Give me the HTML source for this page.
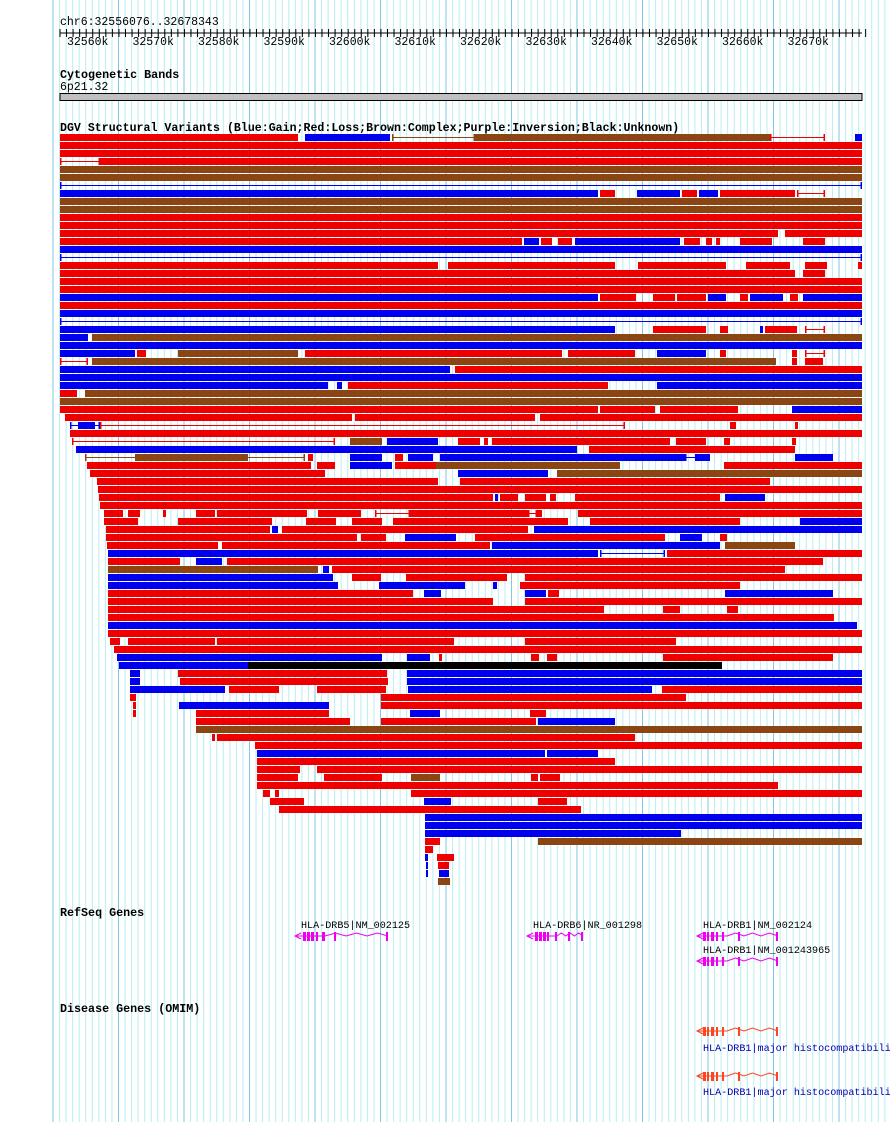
<!DOCTYPE html>
<html><head><meta charset="utf-8"><style>
html,body{margin:0;padding:0;background:#fff;width:890px;height:1122px;overflow:hidden}
svg{display:block}
text{font-family:"Liberation Mono",monospace}
</style></head><body>
<svg id="s" width="890" height="1122" xmlns="http://www.w3.org/2000/svg">
<g id="grid"></g>
<text x="60" y="25" font-size="11.5">chr6:32556076..32678343</text>
<line x1="60" y1="33" x2="862" y2="33" stroke="#000"/>
<g id="ticks"></g>
<text x="60" y="78" font-size="11.7" font-weight="bold">Cytogenetic Bands</text>
<text x="60" y="90" font-size="11.5">6p21.32</text>
<rect x="60" y="93.5" width="802" height="7" fill="#c0c0c0" stroke="#000"/>
<text x="60" y="131" font-size="11.6" font-weight="bold">DGV Structural Variants (Blue:Gain;Red:Loss;Brown:Complex;Purple:Inversion;Black:Unknown)</text>
<g id="bars"></g>
<text x="60" y="916" font-size="11.7" font-weight="bold">RefSeq Genes</text>
<text x="301" y="928" font-size="10.1">HLA-DRB5|NM_002125</text>
<text x="533" y="928" font-size="10.1">HLA-DRB6|NR_001298</text>
<text x="703" y="928" font-size="10.1">HLA-DRB1|NM_002124</text>
<text x="703" y="953" font-size="10.1">HLA-DRB1|NM_001243965</text>
<g id="genes"></g>
<text x="60" y="1012" font-size="11.7" font-weight="bold">Disease Genes (OMIM)</text>
<text x="703" y="1051" font-size="10.1" fill="#0000aa">HLA-DRB1|major histocompatibili</text>
<text x="703" y="1095" font-size="10.1" fill="#0000aa">HLA-DRB1|major histocompatibili</text>
</svg>
<script>
var NS="http://www.w3.org/2000/svg";
function el(p,t,a){var e=document.createElementNS(NS,t);for(var k in a)e.setAttribute(k,a[k]);document.getElementById(p).appendChild(e);return e;}
for(var i=0;i<140;i++){var x=53+i*6.55;if(x>889)break;var maj=(i%10==0);
el("grid","line",{x1:x,y1:0,x2:x,y2:1122,stroke:maj?"#7ec8e8":"#b8eef2","stroke-width":1});}
var labs=["32560k","32570k","32580k","32590k","32600k","32610k","32620k","32630k","32640k","32650k","32660k","32670k"];
for(var i=0;i<labs.length;i++){var t=el("ticks","text",{x:67+i*65.5,y:45,"font-size":11.5});t.textContent=labs[i];}
for(var i=0;i<124;i++){var x=60+i*6.55;el("ticks","line",{x1:x,y1:29,x2:x,y2:37,stroke:"#000"});}
var C={r:"#ee0000",b:"#0000ee",n:"#8b4513",k:"#000",R:"#ee0000",B:"#0000ee",N:"#8b4513"};
var D=[
[134,"r 60 298,b 305 390,N 392 475,n 475 770,R 770 825,b 855 862"],
[142,"r 60 862"],[150,"r 60 862"],[158,"R 60 100,r 100 862"],[166,"n 60 862"],[174,"n 60 862"],[182,"B 60 862"],
[190,"b 60 598,r 600 615,b 637 680,r 682 697,b 699 718,r 720 795,R 797 825"],
[198,"n 60 862"],[206,"n 60 862"],[214,"r 60 862"],[222,"r 60 862"],[230,"r 60 778,r 785 862"],
[238,"r 60 522,b 524 539,r 541 552,r 558 572,b 575 680,r 684 700,r 706 712,r 716 720,r 740 772,r 803 825"],
[246,"b 60 862"],[254,"B 60 862"],
[262,"r 60 438,r 448 615,r 638 726,r 746 790,r 805 827,r 858 862"],
[270,"r 60 795,r 803 825"],[278,"r 60 862"],[286,"r 60 862"],
[294,"b 60 598,r 600 636,r 653 675,r 677 706,b 708 726,r 740 748,b 750 783,r 790 798,b 803 862"],
[302,"r 60 862"],[310,"b 60 862"],[318,"B 60 862"],
[326,"b 60 615,r 653 706,r 720 728,b 760 763,r 765 797,R 805 825"],
[334,"b 60 88,n 92 862"],[342,"b 60 862"],
[350,"b 60 135,r 137 146,n 178 298,r 305 562,r 568 635,b 657 706,r 720 726,r 792 797,R 805 825"],
[358,"R 60 88,n 92 776,r 792 797,r 805 823"],
[366,"b 60 450,r 455 862"],[374,"b 60 862"],[382,"b 60 328,b 337 342,r 348 608,b 657 862"],
[390,"r 60 77,n 85 862"],[398,"n 60 862"],[406,"r 60 598,r 600 655,r 660 738,b 792 862"],
[414,"r 65 352,r 355 535,r 540 862"],
[422,"B 70 100,b 78 95,R 100 625,r 730 736,r 795 798"],
[430,"r 70 862"],
[438,"R 72 335,n 350 382,b 387 438,r 458 480,r 484 488,r 492 670,r 676 706,r 724 730,r 792 796"],
[446,"b 76 577,r 589 795"],
[454,"N 85 305,n 135 248,r 308 313,b 350 382,r 395 403,b 408 433,b 440 685,B 685 710,b 695 710,b 795 833"],
[462,"r 87 311,r 317 335,b 350 392,r 395 438,n 436 620,r 724 862"],
[470,"r 90 325,b 458 548,n 557 862"],[478,"r 97 438,r 460 770"],[486,"r 98 862"],
[494,"r 99 493,b 495 498,r 500 518,r 525 546,r 550 556,r 575 720,b 725 765"],
[502,"r 100 862"],
[510,"r 104 123,r 128 140,r 163 166,r 196 215,r 217 307,r 318 361,R 375 410,r 410 528,R 528 537,r 537 542,r 578 862"],
[518,"r 104 138,r 178 272,r 306 336,r 352 382,r 393 568,r 590 740,b 800 862"],
[526,"r 106 270,b 272 278,r 282 528,b 534 862"],
[534,"r 106 357,r 361 386,b 405 456,r 475 665,b 680 702,r 720 727"],
[542,"r 107 218,r 222 490,b 492 720,n 725 795"],
[550,"b 108 598,B 600 665,r 667 862"],
[558,"r 108 180,b 196 222,r 227 823"],
[566,"n 108 318,b 323 329,r 332 785"],
[574,"b 108 333,r 352 381,r 406 507,r 525 862"],
[582,"b 108 338,b 379 465,b 493 497,r 520 740"],
[590,"r 108 413,b 424 441,b 525 546,r 548 559,b 725 833"],
[598,"r 108 493,r 525 862"],[606,"r 108 604,r 663 680,r 727 738"],[614,"r 108 834"],[622,"b 108 857"],[630,"r 108 862"],
[638,"r 110 120,r 128 215,r 217 454,r 525 676"],[646,"r 114 862"],
[654,"b 117 382,b 407 430,r 439 442,r 531 539,r 547 557,r 663 833"],
[662,"b 119 248,k 248 722"],
[670,"b 130 140,r 178 387,b 407 862"],[678,"b 130 140,r 180 388,b 407 862"],
[686,"b 130 225,r 229 279,r 317 386,b 408 652,r 662 862"],
[694,"r 130 136,r 381 686"],[702,"r 133 136,b 179 329,r 381 862"],
[710,"r 133 136,r 196 329,b 410 440,r 530 546"],
[718,"r 196 350,r 381 536,b 538 615"],
[726,"n 196 862"],[734,"r 212 215,r 217 635"],[742,"r 255 862"],
[750,"b 257 545,b 547 598"],[758,"r 257 615"],[766,"r 257 300,r 317 862"],
[774,"r 257 298,r 324 382,n 411 440,r 531 538,r 540 560"],
[782,"r 257 778"],[790,"r 263 270,r 275 279,r 411 862"],
[798,"r 270 304,b 424 451,r 538 567"],[806,"r 279 581"],
[814,"b 425 862"],[822,"b 425 862"],[830,"b 425 681"],[838,"r 425 440,n 538 862"],
[846,"r 425 433"],[854,"b 425 428,r 437 454"],[862,"b 426 428,r 438 449"],[870,"b 426 428,b 439 449"],[878,"n 438 450"]
];
D.forEach(function(r){r[1].split(",").forEach(function(s){var p=s.trim().split(" ");var c=p[0],a=+p[1],b=+p[2];
if(c==c.toUpperCase()&&c!="k"){el("bars","rect",{x:a,y:r[0]+3,width:b-a,height:1,fill:C[c]});
el("bars","rect",{x:a,y:r[0],width:1.5,height:7,fill:C[c]});el("bars","rect",{x:b-1.5,y:r[0],width:1.5,height:7,fill:C[c]});}
else el("bars","rect",{x:a,y:r[0],width:b-a,height:7,fill:C[c]});});});
function gene(y,x1,x2,exons,col,g){
var pts=[];var st=(x2-x1-30)/6;for(var i=0;i<=6;i++){pts.push((x1+30+i*st)+","+(y+(i%2?-3:0)));}
el(g,"line",{x1:x1,y1:y,x2:x1+30,y2:y,stroke:col,"stroke-width":1});
el(g,"polyline",{points:pts.join(" "),fill:"none",stroke:col});
el(g,"polyline",{points:(x1+6)+","+(y-3)+" "+x1+","+y+" "+(x1+6)+","+(y+3),fill:"none",stroke:col});
exons.forEach(function(e){el(g,"rect",{x:e[0],y:y-4,width:e[1],height:e[2]||9,fill:col});});
}
gene(936,295,388,[[303,3],[307,3],[311,3],[316,2],[322,3],[334,2],[386,2]],"#ee00ee","genes");
gene(936,527,583,[[535,3],[539,3],[543,3],[547,2],[555,2],[568,2],[581,2]],"#ee00ee","genes");
gene(936,697,778,[[703,3],[707,2],[711,3],[716,2],[722,2],[738,2],[776,2]],"#ee00ee","genes");
gene(961,697,778,[[703,3],[707,2],[711,3],[716,2],[722,2],[738,2],[776,2]],"#ee00ee","genes");
gene(1031,697,778,[[703,3],[707,2],[711,3],[716,2],[722,2],[738,2],[776,2]],"#ff4422","genes");
gene(1076,697,778,[[703,3],[707,2],[711,3],[716,2],[722,2],[738,2],[776,2]],"#ff4422","genes");
</script>
</body></html>
